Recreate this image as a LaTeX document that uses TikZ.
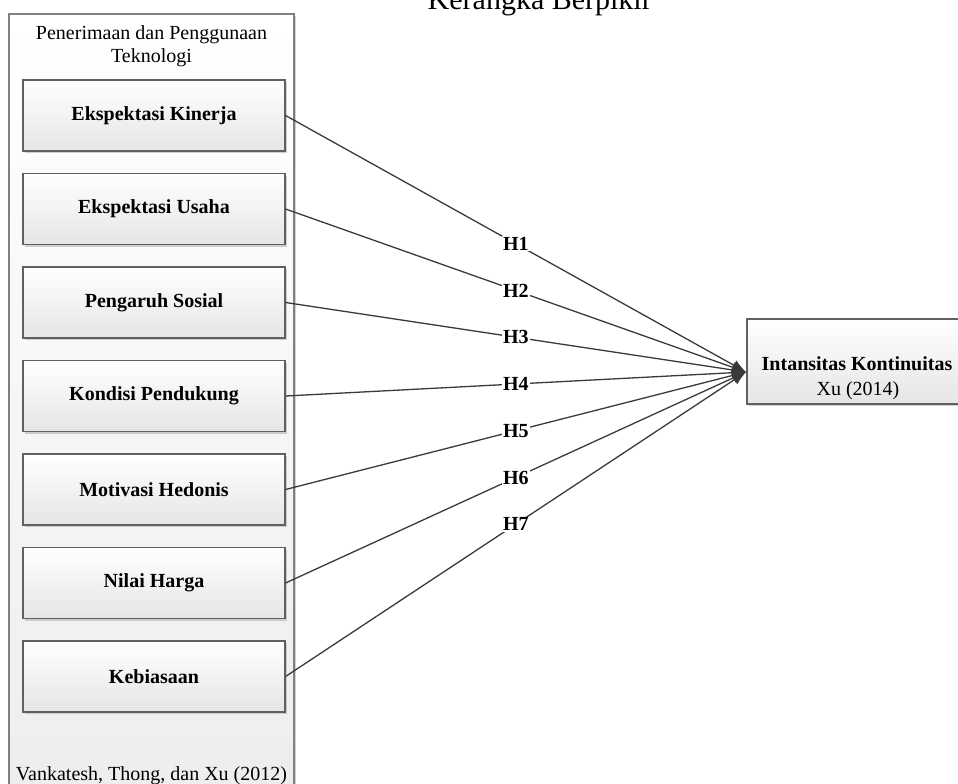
\documentclass[tikz,border=0pt]{standalone}
\usepackage{fontspec}
\setmainfont{Liberation Serif}
\usetikzlibrary{arrows.meta,shadows}
\definecolor{edgec}{HTML}{3A3A3A}
\definecolor{boxline}{HTML}{606060}
\definecolor{outline}{HTML}{808080}
\begin{document}
\begin{tikzpicture}[x=1pt,y=-1pt,
  varbox/.style={draw=boxline,line width=1.1pt,minimum width=262pt,minimum height=71pt,
    top color=white,bottom color=black!10,inner sep=0pt,
    font=\fontsize{20}{25}\selectfont\bfseries,
    drop shadow={shadow xshift=2pt,shadow yshift=-2pt,fill=black!30,opacity=0.6}},
  conn/.style={draw=edgec,line width=1.3pt,-{Latex[length=14pt,width=11pt]}},
  hlbl/.style={fill=white,inner sep=1pt,font=\fontsize{20}{24}\selectfont\bfseries},
  plain/.style={font=\fontsize{20}{23}\selectfont,align=center,inner sep=0pt}]
\useasboundingbox (0,0) rectangle (958,784);
\clip (0,0) rectangle (958,784);
% title
\node[anchor=base east,font=\fontsize{30}{34}\selectfont,inner sep=0pt] (title) at (652,10) {Kerangka Berpikir};
% outer container
\fill[black!30,opacity=0.6] (11,16) rectangle (296,800);
\draw[draw=outline,line width=1.1pt,top color=white,bottom color=black!7] (9,14) rectangle (294,800);
\node[plain,anchor=base] (grp) at (151.5,40) {Penerimaan dan Penggunaan};
\node[plain,anchor=base] (grp2) at (151.5,63) {Teknologi};
\node[plain,anchor=base] (src) at (151.5,780) {Vankatesh, Thong, dan Xu (2012)};
% variables
\node[varbox] (b1) at (154,115.5) {Ekspektasi Kinerja};
\node[varbox] (b2) at (154,209) {Ekspektasi Usaha};
\node[varbox] (b3) at (154,302.5) {Pengaruh Sosial};
\node[varbox] (b4) at (154,396) {Kondisi Pendukung};
\node[varbox] (b5) at (154,489.5) {Motivasi Hedonis};
\node[varbox] (b6) at (154,583) {Nilai Harga};
\node[varbox] (b7) at (154,676.5) {Kebiasaan};
% target
\node[varbox,minimum width=222pt,minimum height=85pt] (tgt) at (858,361.5) {};
\node[plain,anchor=base] (tgt1) at (857,370) {\textbf{Intansitas Kontinuitas}};
\node[plain,anchor=base] (tgt2) at (858,395) {Xu (2014)};
\coordinate (tip) at (746,372);
% connectors
\draw[conn] (b1.east) -- (tip) node[hlbl,pos=0.5] {H1};
\draw[conn] (b2.east) -- (tip) node[hlbl,pos=0.5] {H2};
\draw[conn] (b3.east) -- (tip) node[hlbl,pos=0.5] {H3};
\draw[conn] (b4.east) -- (tip) node[hlbl,pos=0.5] {H4};
\draw[conn] (b5.east) -- (tip) node[hlbl,pos=0.5] {H5};
\draw[conn] (b6.east) -- (tip) node[hlbl,pos=0.5] {H6};
\draw[conn] (b7.east) -- (tip) node[hlbl,pos=0.5] {H7};
\end{tikzpicture}
\end{document}
